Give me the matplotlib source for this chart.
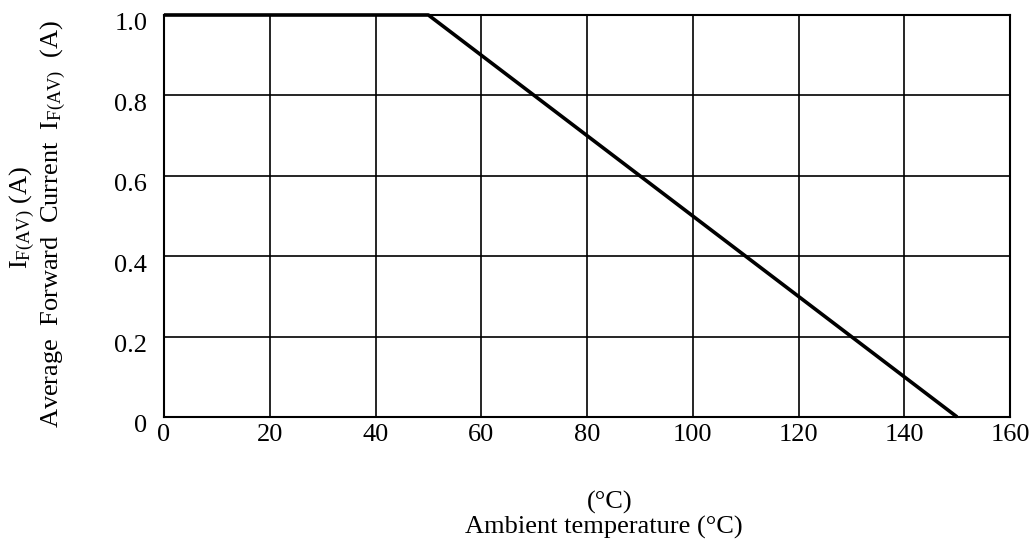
import numpy as np
import matplotlib as mpl
mpl.rc('font', family='Liberation Serif', size=19)
mpl.rc('mathtext', default='regular')
import matplotlib.pyplot as plt
import matplotlib.transforms as mtransforms

# derating curve: ambient temperature (degC) vs average forward current (A)
temp_c = [0, 50, 150]
current_a = [1.0, 1.0, 0.0]

x_ticks = [0, 20, 40, 60, 80, 100, 120, 140, 160]
y_ticks = [0, 0.2, 0.4, 0.6, 0.8, 1.0]
y_tick_labels = ['0', '0.2', '0.4', '0.6', '0.8', '1.0']

fig = plt.figure(figsize=(10.35, 5.43), dpi=100)
ax = fig.add_axes([164 / 1035, 1 - 417 / 543, 846 / 1035, 402 / 543])

ax.plot(temp_c, current_a, color='black', linewidth=2.6, clip_on=False,
        solid_capstyle='butt', zorder=3)

ax.set_xlim(0, 160)
ax.set_ylim(0, 1.0)
ax.set_xticks(x_ticks)
ax.set_yticks(y_ticks)
ax.set_yticklabels(y_tick_labels)
ax.tick_params(length=0)
ax.tick_params(axis='x', pad=5)
ax.tick_params(axis='y', pad=12)
ax.grid(True, color='black', linewidth=1.2)
for spine in ax.spines.values():
    spine.set_linewidth(1.5)

# tick labels in the reference sit slightly below their grid lines
offset = mtransforms.ScaledTranslation(0, -7 / 100, fig.dpi_scale_trans)
for lbl in ax.get_yticklabels():
    lbl.set_transform(lbl.get_transform() + offset)

fig.text(22 / 1035, 1 - 218 / 543, r'I$_{F(AV)}$ (A)', rotation=90,
         ha='center', va='center')
fig.text(53 / 1035, 1 - 224 / 543,
         r'Average  Forward  Current  I$_{F(AV)}$  (A)', rotation=90,
         ha='center', va='center')
fig.text(610 / 1035, 1 - 502 / 543, '(°C)', ha='center', va='center')
fig.text(604 / 1035, 1 - 527 / 543, 'Ambient temperature (°C)',
         ha='center', va='center')

fig.savefig('out.png', dpi=100)
plt.close(fig)
